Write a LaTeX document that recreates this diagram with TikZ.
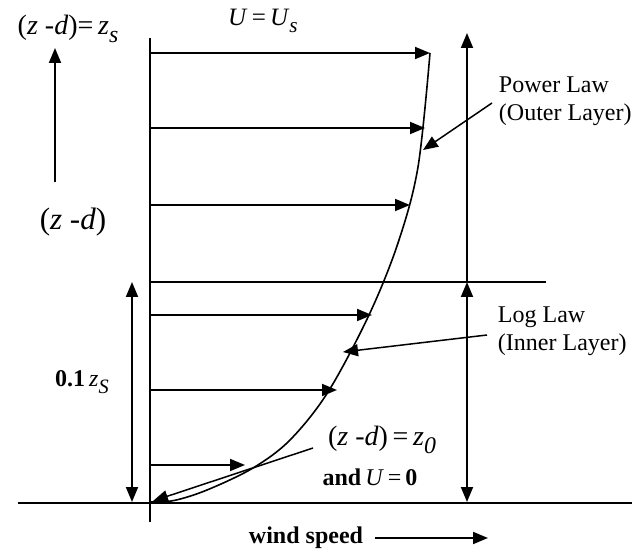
\documentclass[tikz,border=0pt]{standalone}
\usepackage{fontspec}
\usepackage{graphicx}
\setmainfont{Liberation Serif}
\usetikzlibrary{arrows.meta}
\newcommand\mysub[1]{\raisebox{-0.3em}{\scalebox{0.85}{\itshape #1}}}
\begin{document}
\begin{tikzpicture}[x=1pt,y=-1pt,line width=1.9pt,
  tipend/.style={-{Triangle[length=15pt,width=12pt]}},
  tipboth/.style={{Triangle[length=15pt,width=12pt]}-{Triangle[length=15pt,width=12pt]}},
  lbl/.style={font=\fontsize{24}{28}\selectfont,align=left,inner sep=0pt},
  mlbl/.style={font=\fontsize{28}{30}\selectfont,inner sep=0pt},
  blbl/.style={font=\fontsize{24}{26}\selectfont\bfseries,inner sep=0pt}]
\useasboundingbox (0,0) rectangle (632,553);
% axes
\coordinate (axT) at (150,38); \coordinate (axB) at (150,522);
\coordinate (gL) at (18,503); \coordinate (gR) at (632,503);
\draw (axT) -- (axB);
\draw (gL) -- (gR);
% velocity profile
\draw[line width=1.6pt] plot[smooth,tension=0.55] coordinates{(150,502) (174,500.5) (207,490) (253,468) (290,440) (328,392) (369,315) (398,243) (418,167) (430,53)};
% horizontal arrows
\coordinate (h1s) at (150,53);  \coordinate (h1e) at (430,53);
\coordinate (h2s) at (150,128); \coordinate (h2e) at (425,128);
\coordinate (h3s) at (150,205); \coordinate (h3e) at (410,205);
\coordinate (h4s) at (150,282); \coordinate (h4e) at (546,282);
\coordinate (h5s) at (150,315); \coordinate (h5e) at (372,315);
\coordinate (h6s) at (150,390); \coordinate (h6e) at (337,390);
\coordinate (h7s) at (150,465); \coordinate (h7e) at (245,465);
\draw[tipend] (h1s) -- (h1e);
\draw[tipend] (h2s) -- (h2e);
\draw[tipend] (h3s) -- (h3e);
\draw (h4s) -- (h4e);
\draw[tipend] (h5s) -- (h5e);
\draw[tipend] (h6s) -- (h6e);
\draw[tipend] (h7s) -- (h7e);
% right vertical arrows
\coordinate (rM) at (467,282); \coordinate (rT) at (467,33); \coordinate (rB) at (467,502);
\draw[tipend] (rM) -- (rT);
\draw[tipboth] (rB) -- (rM);
% left vertical arrow
\coordinate (lT) at (132,282); \coordinate (lB) at (132,502);
\draw[tipboth] (lB) -- (lT);
% big z arrow
\coordinate (zB) at (55,182); \coordinate (zT) at (55,48);
\draw[tipend] (zB) -- (zT);
% labels
\node[mlbl] (lzs) at (68,29) {(\textit{z} -\textit{d})=\,\textit{z}\mysub{s}};
\node[mlbl,font=\fontsize{25}{28}\selectfont] (lus) at (263,21) {\textit{U}\,=\,\textit{U}\mysub{s}};
\node[mlbl,font=\fontsize{31}{32}\selectfont] (lzd) at (73,222) {(\textit{z} -\textit{d})};
\node[mlbl,font=\fontsize{24}{28}\selectfont] (l01) at (82,382) {\textbf{0.1}\,\textit{z}\mysub{S}};
\node[lbl,anchor=west] (lpow) at (498,101) {Power Law\\(Outer Layer)};
\node[lbl,anchor=west] (llog) at (497,331) {Log Law\\(Inner Layer)};
\node[mlbl] (lz0) at (382,440) {(\textit{z} -\textit{d})\,=\,\textit{z}\mysub{0}};
\node[inner sep=0pt,font=\fontsize{24}{26}\selectfont] (land) at (370,477) {\textbf{and}\,\textit{U}\,=\,\textbf{0}};
\node[blbl] (lws) at (306,538) {wind speed};
% pointers
\coordinate (pP) at (492,103); \coordinate (pPt) at (423,150);
\draw[tipend,line width=1.5pt] (pP) -- (pPt);
\coordinate (pL) at (487,335); \coordinate (pLt) at (343,352);
\draw[tipend,line width=1.5pt] (pL) -- (pLt);
\coordinate (pZ) at (313,448); \coordinate (pZt) at (153,501);
\draw[tipend,line width=1.5pt] (pZ) -- (pZt);
\coordinate (wS) at (375,538); \coordinate (wE) at (488,538);
\draw[tipend] (wS) -- (wE);
\end{tikzpicture}
\end{document}
